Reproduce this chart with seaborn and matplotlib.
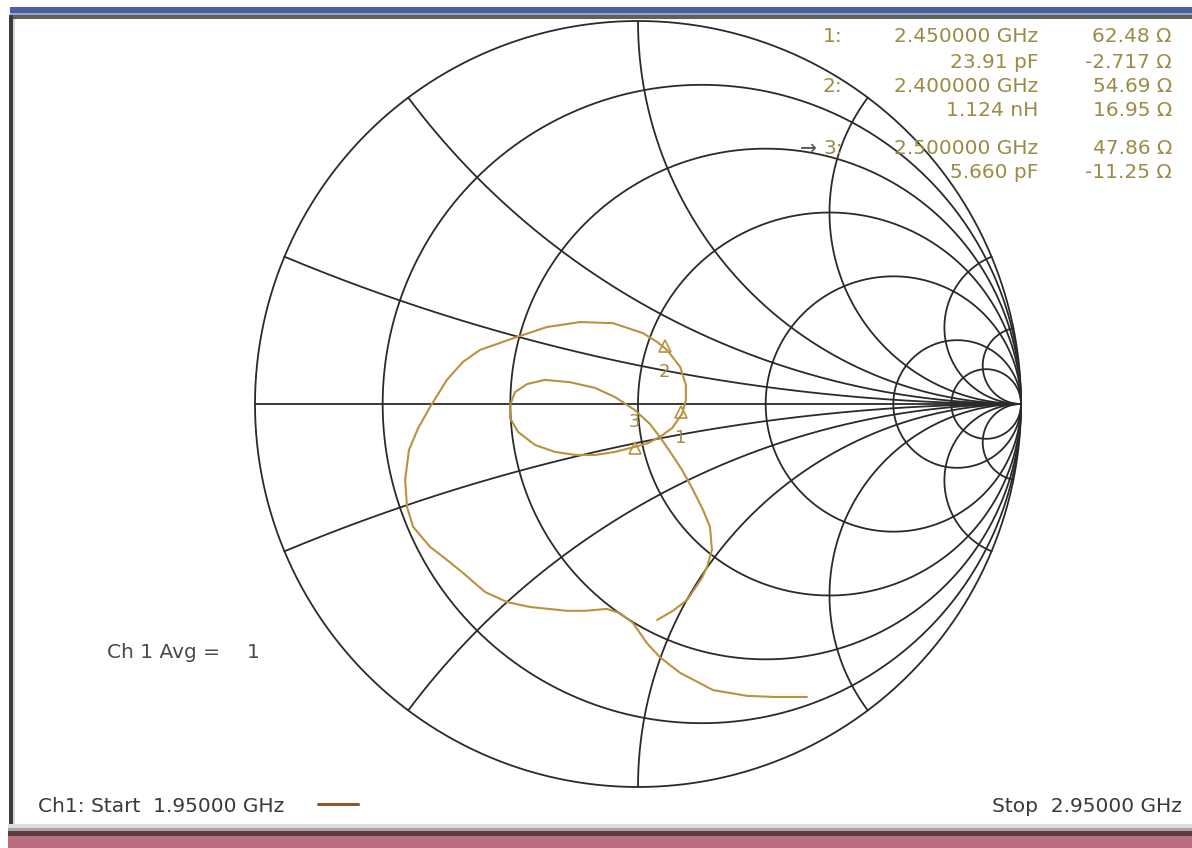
import numpy as np
import pandas as pd
import matplotlib
matplotlib.use("Agg")
import matplotlib.pyplot as plt
import seaborn as sns
from matplotlib.patches import Rectangle

gamma_re = [0.441, 0.358, 0.285, 0.196, 0.110, 0.057, 0.023, -0.013, -0.047, -0.081,
            -0.138, -0.185, -0.282, -0.342, -0.399, -0.457, -0.509, -0.543, -0.587, -0.603,
            -0.608, -0.598, -0.574, -0.543, -0.499, -0.457, -0.413, -0.316, -0.238, -0.151,
            -0.065, 0.013, 0.050, 0.076, 0.110, 0.125, 0.125, 0.115, 0.089, 0.057,
            0.026, -0.008, -0.060, -0.112, -0.164, -0.217, -0.269, -0.313, -0.334, -0.334,
            -0.321, -0.290, -0.243, -0.178, -0.112, -0.060, -0.008, 0.031, 0.057, 0.084,
            0.115, 0.144, 0.170, 0.188, 0.193, 0.180, 0.167, 0.128, 0.091, 0.050]
gamma_im = [-0.765, -0.765, -0.762, -0.747, -0.702, -0.661, -0.624, -0.572, -0.546, -0.535,
            -0.540, -0.540, -0.530, -0.517, -0.491, -0.441, -0.399, -0.373, -0.321, -0.269,
            -0.198, -0.120, -0.063, -0.008, 0.063, 0.110, 0.141, 0.175, 0.201, 0.214,
            0.211, 0.185, 0.162, 0.141, 0.097, 0.050, 0.010, -0.026, -0.063, -0.086,
            -0.102, -0.112, -0.125, -0.133, -0.133, -0.125, -0.107, -0.073, -0.037, -0.003,
            0.031, 0.052, 0.063, 0.057, 0.042, 0.018, -0.016, -0.052, -0.086, -0.125,
            -0.172, -0.225, -0.277, -0.321, -0.381, -0.426, -0.454, -0.512, -0.540, -0.564]

# marker readout
marker_ids = ["1", "2", "3"]
marker_freq = ["2.450000 GHz", "2.400000 GHz", "2.500000 GHz"]
marker_equiv = ["23.91 pF", "1.124 nH", "5.660 pF"]
marker_res = [62.48, 54.69, 47.86]
marker_react = [-2.717, 16.95, -11.25]
z0 = 50.0

# Smith chart grid
r_grid = [0.2, 0.5, 1, 2, 5, 10]
x_grid = [0.2, 0.5, 1, 2, 5, 10]

start_label = "Ch1: Start  1.95000 GHz"
stop_label = "Stop  2.95000 GHz"
avg_label = "Ch 1 Avg ="
avg_value = "1"

sns.set_theme(style="white")
plt.rcParams['font.family'] = ['DejaVu Sans']

W, H = 1192, 848
cx, cy, R = 638, 404, 383          # chart centre / radius in pixels
left, right, top, bottom = 14, 1192, 20, 824

fig = plt.figure(figsize=(W / 100, H / 100), dpi=100)
fig.patch.set_facecolor("white")
ax = fig.add_axes([left / W, (H - bottom) / H, (right - left) / W, (bottom - top) / H])
ax.set_xlim((left - cx) / R, (right - cx) / R)
ax.set_ylim((cy - bottom) / R, (cy - top) / R)
ax.axis("off")

grid_kw = dict(color="#2a2a2a", lw=1.3, zorder=1)

# outer circle and resistance circles
th = np.linspace(0, 2 * np.pi, 721)
ax.plot(np.cos(th), np.sin(th), **grid_kw)
for r in r_grid:
    c, rad = r / (1 + r), 1 / (1 + r)
    ax.plot(c + rad * np.cos(th), rad * np.sin(th), **grid_kw)

# reactance arcs
phi = np.linspace(0, np.pi / 2, 3000)[:-1]
t = np.tan(phi)
for x in x_grid:
    for s in (1, -1):
        z = t + 1j * s * x
        g = (z - 1) / (z + 1)
        ax.plot(np.append(g.real, 1), np.append(g.imag, 0), **grid_kw)
ax.plot([-1, 1], [0, 0], **grid_kw)

# measured trace
trace_color = "#b8923e"
df = pd.DataFrame({"re": gamma_re, "im": gamma_im})
sns.lineplot(data=df, x="re", y="im", sort=False, estimator=None,
             color=trace_color, lw=1.5, ax=ax, zorder=3)

# markers
zm = (np.array(marker_res) + 1j * np.array(marker_react)) / z0
gm = (zm - 1) / (zm + 1)
label_off = {"1": -26, "2": -26, "3": 26}
for mid, g in zip(marker_ids, gm):
    ax.plot(g.real, g.imag, marker="^", ms=8, mfc="none", mec=trace_color, mew=1.2, zorder=4)
    ax.annotate(mid, (g.real, g.imag), xytext=(0, label_off[mid]), textcoords="offset pixels",
                ha="center", va="center", fontsize=13, color="#a88a3a", zorder=4)

# marker readout table
txt_color = "#9c8a45"
rows_y = [37, 62, 87, 111, 148, 172]
fs = 14.5


def ftext(x, y, s, **kw):
    fig.text(x / W, 1 - y / H, s, va="center", fontsize=fs, **kw)


for i, mid in enumerate(marker_ids):
    y1, y2 = rows_y[2 * i], rows_y[2 * i + 1]
    ftext(823, y1, mid + ":", color=txt_color, ha="left")
    ftext(1038, y1, marker_freq[i], color=txt_color, ha="right")
    ftext(1172, y1, f"{marker_res[i]:.2f} Ω", color=txt_color, ha="right")
    ftext(1038, y2, marker_equiv[i], color=txt_color, ha="right")
    ftext(1172, y2, f"{marker_react[i]:.4g} Ω", color=txt_color, ha="right")
ftext(800, rows_y[4], "→", color="#555555", ha="left")

# bottom annotations
ftext(38, 807, start_label, color="#3a3a3a", ha="left")
ftext(1182, 807, stop_label, color="#3a3a3a", ha="right")
ftext(107, 653, avg_label, color="#4a4a4a", ha="left")
ftext(260, 653, avg_value, color="#4a4a4a", ha="right")
fig.add_artist(plt.Line2D([318 / W, 358 / W], [1 - 804 / H, 1 - 804 / H],
                          color="#8b5a2b", lw=2.2, transform=fig.transFigure))


# window frame
def frect(x0, y0, x1, y1, color):
    fig.add_artist(Rectangle((x0 / W, 1 - y1 / H), (x1 - x0) / W, (y1 - y0) / H,
                             transform=fig.transFigure, color=color, lw=0, zorder=5))


frect(10, 7, W, 13, "#4a5ea6")
frect(10, 13, W, 15, "#98a6c6")
frect(10, 15, W, 19, "#5e6358")
frect(9, 15, 13, 826, "#3c3c3c")
frect(13, 19, 15, 824, "#d8d8d8")
frect(8, 824, W, 828, "#dcdedc")
frect(8, 828, W, 831, "#a9a4a4")
frect(8, 831, W, 836, "#5b3b3e")
frect(8, 836, W, H, "#b86e7c")

fig.savefig("out.png", dpi=100)
